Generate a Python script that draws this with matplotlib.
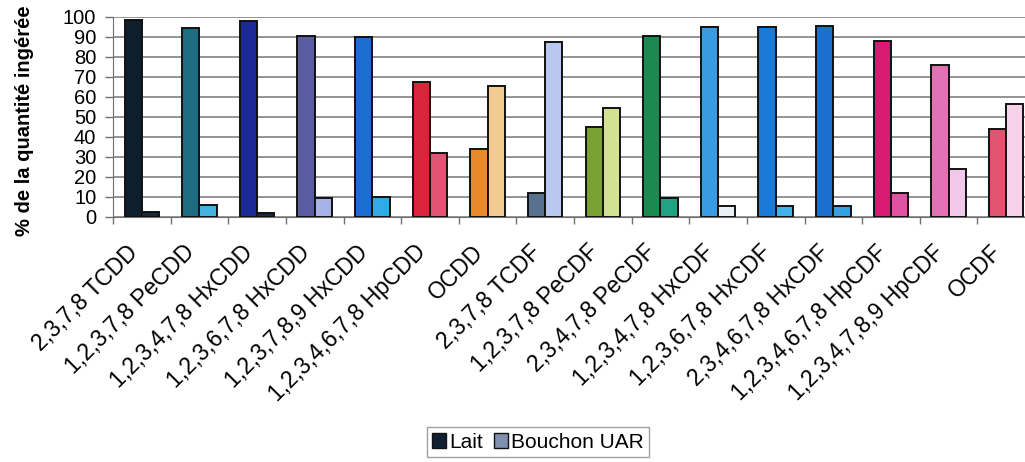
import matplotlib
matplotlib.use("Agg")
import matplotlib.pyplot as plt
from matplotlib.patches import Patch
from matplotlib.transforms import ScaledTranslation
import numpy as np

plt.rcParams['font.family'] = ['Liberation Sans', 'DejaVu Sans']

categories = ["2,3,7,8 TCDD", "1,2,3,7,8 PeCDD", "1,2,3,4,7,8 HxCDD", "1,2,3,6,7,8 HxCDD",
              "1,2,3,7,8,9 HxCDD", "1,2,3,4,6,7,8 HpCDD", "OCDD", "2,3,7,8 TCDF",
              "1,2,3,7,8 PeCDF", "2,3,4,7,8 PeCDF", "1,2,3,4,7,8 HxCDF", "1,2,3,6,7,8 HxCDF",
              "2,3,4,6,7,8 HxCDF", "1,2,3,4,6,7,8 HpCDF", "1,2,3,4,7,8,9 HpCDF", "OCDF"]
lait = [98.5, 94.5, 98, 90.5, 90, 67.5, 34, 12, 45, 90.5, 95, 95, 95.5, 88, 76, 44]
bouchon = [2.3, 6, 2.2, 9.5, 10, 32, 65.5, 87.5, 54.5, 9.5, 5.5, 5.5, 5.5, 12, 24, 56.5]

lait_colors = ["#0f1e2c", "#1e6c80", "#1c2a98", "#5a5ca2", "#1a6ed2", "#d8253a", "#e88a2a",
               "#5a7090", "#7aa232", "#1a8a52", "#3a9ae2", "#1a7ad8", "#1a70d0", "#d81a72",
               "#e272b4", "#e05472"]
bouchon_colors = ["#1a2a3a", "#42b2e2", "#1c2a52", "#a8b2ea", "#32aaea", "#e25474", "#f2ca92",
                  "#bac8f0", "#d2e292", "#22a282", "#eaf0f8", "#42b2ea", "#32a2e2", "#e252a2",
                  "#f2c8ea", "#f8d2ea"]

fig = plt.figure(figsize=(10.25, 4.62), dpi=100)
ax = fig.add_axes([113/1025, 1-217/462, 922/1025, 200/462])

n = len(categories)
x = np.arange(n)
w = 0.30
ax.bar(x - w/2, lait, w, color=lait_colors, edgecolor="#111111", linewidth=1.4, zorder=3)
ax.bar(x + w/2, bouchon, w, color=bouchon_colors, edgecolor="#111111", linewidth=1.4, zorder=3)

ax.set_xlim(-0.5, n - 0.5)
ax.set_ylim(0, 100)
ax.set_yticks(np.arange(0, 101, 10))
ax.tick_params(axis='y', labelsize=14.5, length=6, width=1, color="#707070", pad=6)
ax.yaxis.grid(True, color="#777777", linewidth=1.1, zorder=0)
ax.set_axisbelow(True)

ax.set_xticks(x)
ax.set_xticklabels(categories, rotation=45, ha='right', rotation_mode='anchor', fontsize=16.5)
ax.tick_params(axis='x', which='major', length=0, pad=17)
shift = ScaledTranslation(-16/100, 0, fig.dpi_scale_trans)
for lab in ax.get_xticklabels():
    lab.set_transform(lab.get_transform() + shift)
ax.set_xticks(np.arange(-0.5, n, 1.0), minor=True)
ax.tick_params(axis='x', which='minor', length=5, width=1, color="#707070")

for s in ['top', 'right']:
    ax.spines[s].set_visible(False)
ax.spines['left'].set_color("#707070")
ax.spines['bottom'].set_color("#707070")

fig.text(25/1025, 1-121/462, "% de la quantité ingérée", rotation=90, ha='center', va='center',
         fontsize=14.5, fontweight='bold')

handles = [Patch(facecolor="#102030", edgecolor="#111111", label="Lait"),
           Patch(facecolor="#8090b0", edgecolor="#111111", label="Bouchon UAR")]
fig.legend(handles=handles, loc='center', bbox_to_anchor=(538/1025, 1-442/462), ncol=2,
           fontsize=15, frameon=True, fancybox=False, edgecolor="#888888",
           handlelength=0.7, handleheight=0.7, handletextpad=0.15, columnspacing=0.5,
           borderpad=0.25, borderaxespad=0)

fig.savefig("out.png", dpi=100)
